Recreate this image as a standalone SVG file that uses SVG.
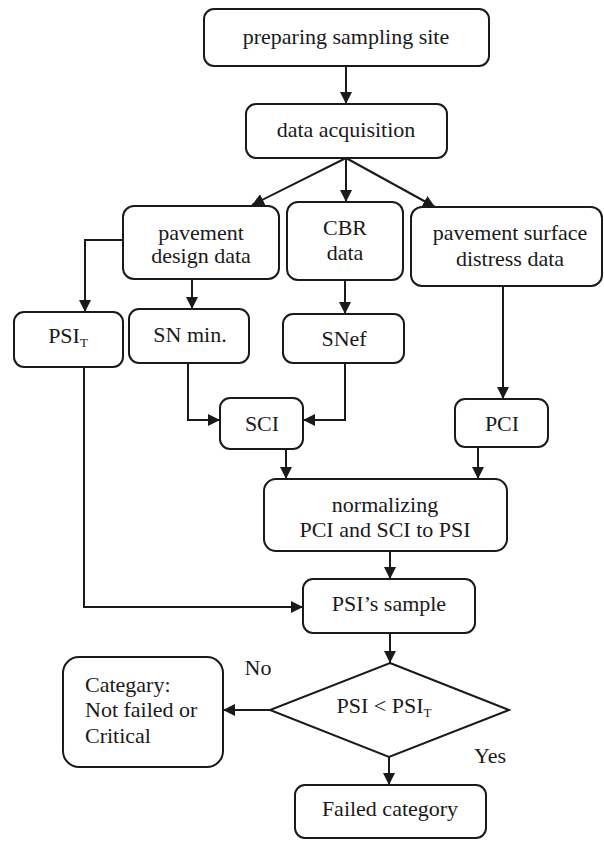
<svg xmlns="http://www.w3.org/2000/svg" width="604" height="842" viewBox="0 0 604 842">
<style>
.box{fill:#fff;stroke:#1a1a1a;stroke-width:2}
.t{font-family:"Liberation Serif","Times New Roman",serif;font-size:22px;fill:#1a1a1a;text-anchor:middle}
.l{text-anchor:start}
.sub{font-size:13px}
.c{fill:none;stroke:#1a1a1a;stroke-width:2;marker-end:url(#ah)}
</style>
<defs>
<marker id="ah" markerUnits="userSpaceOnUse" markerWidth="12" markerHeight="12" viewBox="0 0 12 12" refX="12" refY="6" orient="auto">
<path d="M0,0 L12,6 L0,12 Z" fill="#1a1a1a"/>
</marker>
</defs>
<rect width="604" height="842" fill="#fff"/>
<g id="connectors">
<path class="c" d="M346,66 V104"/>
<path class="c" d="M346,158 L252,205"/>
<path class="c" d="M346,158 V202"/>
<path class="c" d="M346,158 L435,207"/>
<path class="c" d="M123,240 H85 V312"/>
<path class="c" d="M192,279 V309"/>
<path class="c" d="M345,280 V314"/>
<path class="c" d="M503,286 V399"/>
<path class="c" d="M188,363 V420 H220"/>
<path class="c" d="M345,363 V420 H303"/>
<path class="c" d="M286,449 V479"/>
<path class="c" d="M478,447 V479"/>
<path class="c" d="M390,551 V579"/>
<path class="c" d="M84,367 V607 H303"/>
<path class="c" d="M390,633 V663"/>
<path class="c" d="M270,710 H223"/>
<path class="c" d="M389,757 V785"/>
</g>
<g id="preparing"><rect class="box" x="204" y="9" width="285" height="57" rx="10"/><text class="t" x="346" y="44">preparing sampling site</text></g>
<g id="acquisition"><rect class="box" x="246" y="104" width="201" height="54" rx="10"/><text class="t" x="346" y="137">data acquisition</text></g>
<g id="design"><rect class="box" x="123" y="206" width="156" height="73" rx="11"/><text class="t" x="201" y="240">pavement</text><text class="t" x="201" y="263">design data</text></g>
<g id="cbr"><rect class="box" x="287" y="202" width="116" height="78" rx="11"/><text class="t" x="345" y="235">CBR</text><text class="t" x="345" y="260">data</text></g>
<g id="surface"><rect class="box" x="411" y="207" width="191" height="79" rx="11"/><text class="t" x="510" y="240">pavement surface</text><text class="t" x="510" y="266">distress data</text></g>
<g id="psit"><rect class="box" x="14" y="312" width="109" height="55" rx="10"/><text class="t" x="68" y="343">PSI<tspan class="sub" dy="4">T</tspan></text></g>
<g id="snmin"><rect class="box" x="129" y="309" width="120" height="54" rx="10"/><text class="t" x="190" y="342">SN min.</text></g>
<g id="snef"><rect class="box" x="283" y="314" width="121" height="49" rx="10"/><text class="t" x="344" y="346">SNef</text></g>
<g id="sci"><rect class="box" x="220" y="398" width="83" height="51" rx="10"/><text class="t" x="262" y="431">SCI</text></g>
<g id="pci"><rect class="box" x="455" y="399" width="93" height="48" rx="10"/><text class="t" x="502" y="431">PCI</text></g>
<g id="normalizing"><rect class="box" x="264" y="479" width="243" height="72" rx="12"/><text class="t" x="385" y="512">normalizing</text><text class="t" x="385" y="537">PCI and SCI to PSI</text></g>
<g id="sample"><rect class="box" x="303" y="579" width="172" height="54" rx="10"/><text class="t" x="389" y="611">PSI’s sample</text></g>
<g id="decision"><polygon class="box" points="390,663 509,710 389,757 270,710"/><text class="t" x="384" y="713">PSI &lt; PSI<tspan class="sub" dy="4">T</tspan></text></g>
<g id="category"><rect class="box" x="63" y="657" width="160" height="110" rx="16"/><text class="t l" x="85" y="692">Categary:</text><text class="t l" x="85" y="717">Not failed or</text><text class="t l" x="85" y="743">Critical</text></g>
<g id="failed"><rect class="box" x="295" y="785" width="191" height="53" rx="10"/><text class="t" x="390" y="816">Failed category</text></g>
<g id="labels"><text class="t" x="258" y="675">No</text><text class="t" x="490" y="763">Yes</text></g>
</svg>
